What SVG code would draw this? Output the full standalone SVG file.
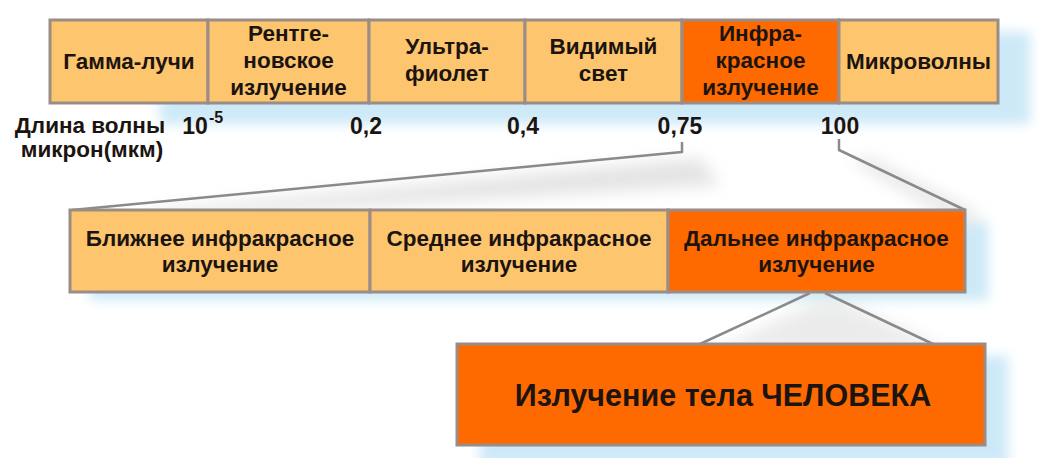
<svg xmlns="http://www.w3.org/2000/svg" width="1047" height="458" viewBox="0 0 1047 458">
<defs>
<filter id="blur" x="-20%" y="-50%" width="140%" height="200%"><feGaussianBlur stdDeviation="6"/></filter>
<filter id="blur2" x="-20%" y="-50%" width="140%" height="200%"><feGaussianBlur stdDeviation="8"/></filter>
<style>
.lt{fill:#FDC66E;stroke:#9A8C86;stroke-width:3}
.or{fill:#FF6A00;stroke:#9A8C86;stroke-width:3}
.t{font-family:"Liberation Sans",Arial,sans-serif;font-weight:bold;font-size:22.5px;fill:#1c1410;text-anchor:middle}
.num{font-size:23px}
.big{font-size:30.5px}
.con{fill:none;stroke:#8a8a8a;stroke-width:2.5;stroke-linejoin:round}
.sh{fill:#CDE9F8}
.gs{fill:#d8d8d8}
</style>
</defs>
<rect width="1047" height="458" fill="#ffffff"/>
<g id="shadows">
<rect class="sh" x="160" y="32" width="870" height="92" filter="url(#blur)"/>
<rect class="sh" x="90" y="222" width="898" height="78" filter="url(#blur)"/>
<rect class="sh" x="480" y="356" width="528" height="110" filter="url(#blur)"/>
<polygon class="gs" points="700,158 720,185 160,218 140,212" filter="url(#blur2)" opacity="0.7"/>
<polygon class="gs" points="850,160 870,158 985,218 960,222" filter="url(#blur2)" opacity="0.7"/>
<polygon class="gs" points="820,300 840,300 950,350 715,350" filter="url(#blur2)" opacity="0.5"/>
</g>
<g id="connectors">
<path class="con" d="M682 142 V152 L72 210"/>
<path class="con" d="M839 139 V150 L965 210"/>
<path class="con" d="M810 293 L700 344"/>
<path class="con" d="M825 293 L933 344"/>
</g>
<g id="gamma"><rect class="lt" x="50" y="20" width="158" height="83"/><text class="t" x="129" y="69">Гамма-лучи</text></g>
<g id="xray"><rect class="lt" x="208" y="20" width="161" height="83"/><text class="t" x="288.5" y="41">Рентге-</text><text class="t" x="288.5" y="68">новское</text><text class="t" x="288.5" y="95">излучение</text></g>
<g id="uv"><rect class="lt" x="369" y="20" width="156" height="83"/><text class="t" x="447" y="54">Ультра-</text><text class="t" x="447" y="81">фиолет</text></g>
<g id="visible"><rect class="lt" x="525" y="20" width="157" height="83"/><text class="t" x="603.5" y="54">Видимый</text><text class="t" x="603.5" y="81">свет</text></g>
<g id="ir"><rect class="or" x="682" y="20" width="157" height="83"/><text class="t" x="760.5" y="41">Инфра-</text><text class="t" x="760.5" y="68">красное</text><text class="t" x="760.5" y="95">излучение</text></g>
<g id="micro"><rect class="lt" x="839" y="20" width="159" height="83"/><text class="t" x="918.5" y="69">Микроволны</text></g>
<g id="scale">
<text class="t" x="90" y="133">Длина волны</text>
<text class="t" x="92" y="157">микрон(мкм)</text>
<text class="t num" x="195" y="134">10</text>
<text class="t" x="216" y="123" style="font-size:16px">-5</text>
<text class="t num" x="366" y="134">0,2</text>
<text class="t num" x="523" y="134">0,4</text>
<text class="t num" x="680" y="134">0,75</text>
<text class="t num" x="840" y="134">100</text>
</g>
<g id="near"><rect class="lt" x="70" y="210" width="300" height="82"/><text class="t" x="220" y="246">Ближнее инфракрасное</text><text class="t" x="220" y="272">излучение</text></g>
<g id="mid"><rect class="lt" x="370" y="210" width="298" height="82"/><text class="t" x="519" y="246">Среднее инфракрасное</text><text class="t" x="519" y="272">излучение</text></g>
<g id="far"><rect class="or" x="668" y="210" width="297" height="82"/><text class="t" x="816.5" y="246">Дальнее инфракрасное</text><text class="t" x="816.5" y="272">излучение</text></g>
<g id="human"><rect class="or" x="457" y="344" width="528" height="101"/><text class="t big" x="723" y="406">Излучение тела ЧЕЛОВЕКА</text></g>
</svg>
